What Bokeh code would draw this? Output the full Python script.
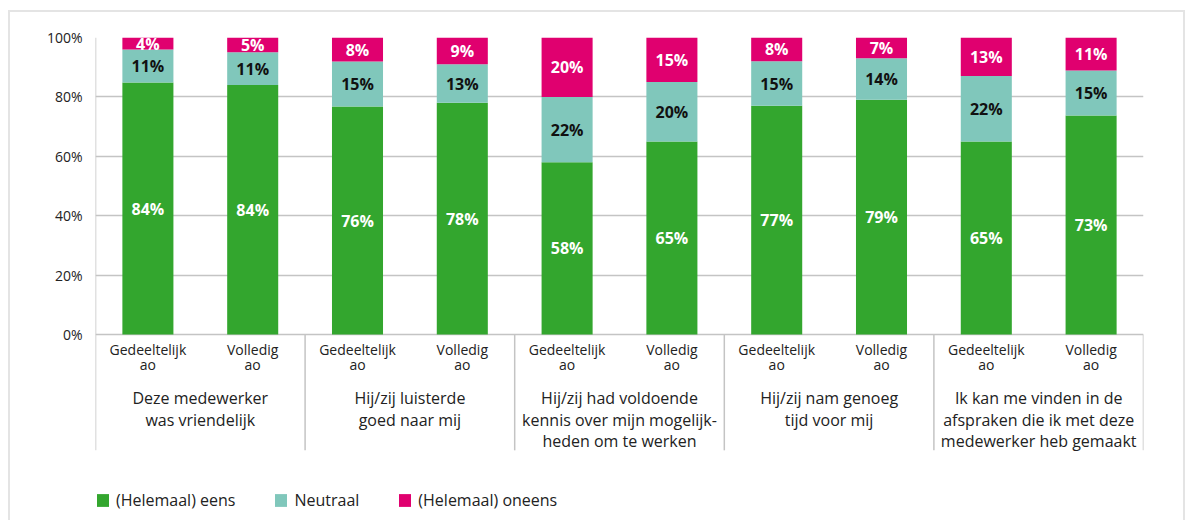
from bokeh.plotting import figure
from bokeh.models import Range1d, FixedTicker, PrintfTickFormatter, ColumnDataSource
from bokeh.core.properties import value
from bokeh.embed import file_html
from bokeh.resources import INLINE

# ---------------- data ----------------
groups = [
    "Deze medewerker\nwas vriendelijk",
    "Hij/zij luisterde\ngoed naar mij",
    "Hij/zij had voldoende\nkennis over mijn mogelijk-\nheden om te werken",
    "Hij/zij nam genoeg\ntijd voor mij",
    "Ik kan me vinden in de\nafspraken die ik met deze\nmedewerker heb gemaakt",
]
subgroups = ["Gedeeltelijk\nao", "Volledig\nao"]
series = ["(Helemaal) eens", "Neutraal", "(Helemaal) oneens"]
eens = [84, 84, 76, 78, 58, 65, 77, 79, 65, 73]
neutraal = [11, 11, 15, 13, 22, 20, 15, 14, 22, 15]
oneens = [4, 5, 8, 9, 20, 15, 8, 7, 13, 11]
y_ticks = [0, 20, 40, 60, 80, 100]

colors = ["#33a62e", "#80c7bb", "#e0006f"]
label_colors = ["white", "#111111", "white"]
FONT = "Open Sans"
TXT = "#222222"

# ---------------- layout ----------------
W, H = 1177, 510
ML, MR, MT, MB = 85, 44, 25, 5
PX_PER_PCT = 2.97
frame_h = H - MT - MB
ymin = 100 - frame_h / PX_PER_PCT
SEP_BOTTOM = -39.0
CAT_TOP = -1.8
GROUP_TOP = -17.8

n_sub = len(subgroups)
n = len(eens)
xs = [i + 0.5 for i in range(n)]

# normalised (100% stacked) values
vals = [eens, neutraal, oneens]
tot = [sum(v[i] for v in vals) for i in range(n)]
norm = [[v[i] * 100.0 / tot[i] for i in range(n)] for v in vals]

src = ColumnDataSource(dict(x=xs, s0=norm[0], s1=norm[1], s2=norm[2]))

p = figure(width=W, height=H, output_backend="svg", toolbar_location=None,
           x_range=Range1d(0, n), y_range=Range1d(ymin, 100),
           x_axis_location=None, min_border_left=ML, min_border_right=MR,
           min_border_top=MT, min_border_bottom=MB)
p.styles = {"border": "2px solid #e4e4e4", "border-bottom": "none",
            "margin-left": "8px", "margin-top": "10px"}
p.outline_line_color = None
p.background_fill_color = "white"
p.border_fill_color = "white"

p.xgrid.visible = False
p.ygrid.ticker = FixedTicker(ticks=y_ticks)
p.ygrid.grid_line_color = "#c4c4c4"
p.ygrid.grid_line_width = 1.5

ax = p.yaxis[0]
ax.ticker = FixedTicker(ticks=y_ticks)
ax.formatter = PrintfTickFormatter(format="%d%%")
ax.axis_line_color = None
ax.major_tick_line_color = None
ax.minor_tick_line_color = None
ax.major_tick_out = 0
ax.minor_tick_out = 0
ax.major_label_text_font = FONT
ax.major_label_text_font_size = "14px"
ax.major_label_text_color = TXT
ax.major_label_standoff = 13

# separators
sep_x = [0] + [n_sub * (g + 1) for g in range(len(groups))]
sep_top = [100] + [0] * len(groups)
p.segment(x0=sep_x, y0=sep_top, x1=sep_x, y1=[SEP_BOTTOM] * len(sep_x),
          line_color="#c4c4c4", line_width=1.5)

# bars
p.vbar_stack(["s0", "s1", "s2"], x="x", width=0.487, source=src,
             color=colors, line_color=None, legend_label=series)

# segment labels
for k in range(3):
    base = [sum(norm[j][i] for j in range(k)) for i in range(n)]
    ys = [base[i] + norm[k][i] / 2 for i in range(n)]
    txt = [f"{vals[k][i]}%" for i in range(n)]
    p.text(x=xs, y=ys, text=txt, text_align="center", text_baseline="middle",
           text_font=value(FONT), text_font_size="16px", text_font_style="bold",
           text_color=label_colors[k])

# sub category labels
p.text(x=xs, y=[CAT_TOP] * n, text=[subgroups[i % n_sub] for i in range(n)],
       text_align="center", text_baseline="top", text_font=value(FONT),
       text_font_size="14px", text_color=TXT, text_line_height=0.8)

# group labels
gx = [n_sub * g + n_sub / 2 for g in range(len(groups))]
p.text(x=gx, y=[GROUP_TOP] * len(groups), text=groups, text_align="center",
       text_baseline="top", text_font=value(FONT), text_font_size="16px",
       text_color=TXT, text_line_height=0.97)

lg = p.legend[0]
lg.orientation = "horizontal"
lg.location = (0, 6)
lg.border_line_color = None
lg.background_fill_alpha = 0
lg.padding = 0
lg.margin = 0
lg.spacing = 38
lg.glyph_width = 15
lg.glyph_height = 16
lg.label_height = 16
lg.label_standoff = 6
lg.label_text_font = FONT
lg.label_text_font_size = "16px"
lg.label_text_color = TXT

open("out.html", "w").write(file_html(p, INLINE))
